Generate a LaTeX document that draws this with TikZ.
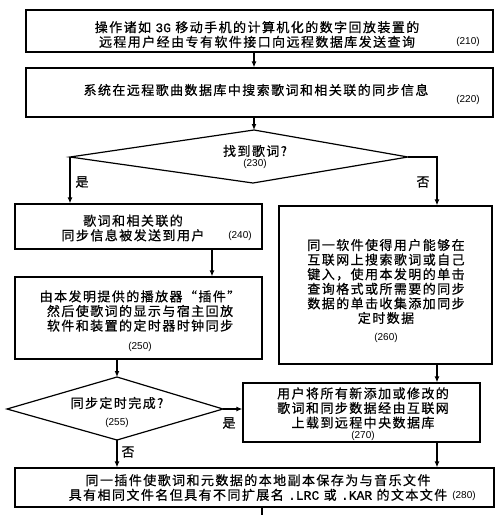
\documentclass[tikz,border=0pt]{standalone}
\usepackage{fontspec}
\usetikzlibrary{arrows.meta,calc}
\newfontfamily\cjk{Noto Sans CJK SC}[LetterSpace=11,FakeBold=0.6]
\newfontfamily\numf{Liberation Sans}
\newfontfamily\monof{Liberation Mono}[FakeBold=0.6]
\tikzset{
  box/.style={draw, line width=1.2pt, inner sep=0pt},
  txt/.style={font=\cjk\fontsize{13}{14.6}\selectfont, align=center, inner sep=0pt},
  num/.style={font=\numf\fontsize{10}{12}\selectfont, inner sep=0pt},
  arr/.style={line width=1.2pt, -{Latex[length=6pt,width=5pt]}},
  plain/.style={line width=1.2pt}
}
\begin{document}
\begin{tikzpicture}[x=1pt,y=-1pt]
\path[use as bounding box, fill=white] (0,0) rectangle (500,515);

% boxes
\node[box, minimum width=467pt, minimum height=42pt] (b210) at (259.5,31) {};
\node[box, minimum width=467pt, minimum height=49pt] (b220) at (259.5,92.5) {};
\node[box, minimum width=247pt, minimum height=45pt] (b240) at (138.5,226.5) {};
\node[box, minimum width=247pt, minimum height=82pt] (b250) at (138.5,318) {};
\node[box, minimum width=213pt, minimum height=158pt] (b260) at (385.5,285) {};
\node[box, minimum width=237pt, minimum height=59pt] (b270) at (361.5,412.5) {};
\node[box, minimum width=479pt, minimum height=39pt] (b280) at (254.5,487.5) {};

% diamonds
\coordinate (d230t) at (254,130);
\coordinate (d230l) at (70,157);
\coordinate (d230r) at (408,157);
\coordinate (d230b) at (253,183);
\draw[plain, line join=miter] (d230t) -- (d230r) -- (d230b) -- (d230l) -- cycle;
\coordinate (d255t) at (117,377);
\coordinate (d255l) at (7,409);
\coordinate (d255r) at (223,409);
\coordinate (d255b) at (117,440);
\draw[plain] (d255t) -- (d255r) -- (d255b) -- (d255l) -- cycle;

% texts
\node[txt] (t210) at (257,34.5) {操作诸如 {\monof 3G} 移动手机的计算机化的数字回放装置的\\远程用户经由专有软件接口向远程数据库发送查询};
\node[num] (n210) at (468,42) {(210)};
\node[txt] (t220) at (256,90) {系统在远程歌曲数据库中搜索歌词和相关联的同步信息};
\node[num] (n220) at (468,100) {(220)};
\node[txt] (t230) at (255,151) {找到歌词?};
\node[num] (n230) at (255,164) {(230)};
\node[txt] (t240) at (133,228) {歌词和相关联的\\同步信息被发送到用户};
\node[num] (n240) at (240,236) {(240)};
\node[txt] (t250) at (140,311) {由本发明提供的播放器“插件”\\然后使歌词的显示与宿主回放\\软件和装置的定时器时钟同步};
\node[num] (n250) at (140,347) {(250)};
\node[txt] (t260) at (386,281.5) {同一软件使得用户能够在\\互联网上搜索歌词或自己\\键入，使用本发明的单击\\查询格式或所需要的同步\\数据的单击收集添加同步\\定时数据};
\node[num] (n260) at (386,338) {(260)};
\node[txt] (t255) at (117,403) {同步定时完成?};
\node[num] (n255) at (117,423) {(255)};
\node[txt] (t270) at (363,408) {用户将所有新添加或修改的\\歌词和同步数据经由互联网\\上载到远程中央数据库};
\node[num] (n270) at (363,435.5) {(270)};
\node[txt] (t280) at (258,487.5) {同一插件使歌词和元数据的本地副本保存为与音乐文件\\具有相同文件名但具有不同扩展名 {\monof .LRC} 或 {\monof .KAR} 的文本文件};
\node[num] (n280) at (464,496) {(280)};

% branch labels
\node[txt] (y230) at (82,182) {是};
\node[txt] (n230l) at (423,182) {否};
\node[txt] (y255) at (229,423) {是};
\node[txt] (n255l) at (128,452) {否};

% connectors
\coordinate (cx) at (437,0);
\coordinate (bot) at (262,515);
\draw[arr] (b210.south -| d230t) -- (b220.north -| d230t);
\draw[arr] (b220.south -| d230t) -- (d230t);
\draw[arr] (d230l) -- (d230l |- b240.north);
\draw[arr] (d230r) -| (cx |- b260.north);
\draw[arr] ($(b240.south)+(73.5,0)$) -- ($(b250.north)+(73.5,0)$);
\draw[arr] (b250.south -| d255t) -- (d255t);
\draw[arr] (d255r) -- (d255r -| b270.west);
\draw[arr] (d255b) -- (d255b |- b280.north);
\draw[arr] (cx |- b260.south) -- (cx |- b270.north);
\draw[arr] (cx |- b270.south) -- (cx |- b280.north);
\draw[plain] (b280.south -| bot) -- (bot);
\end{tikzpicture}
\end{document}
